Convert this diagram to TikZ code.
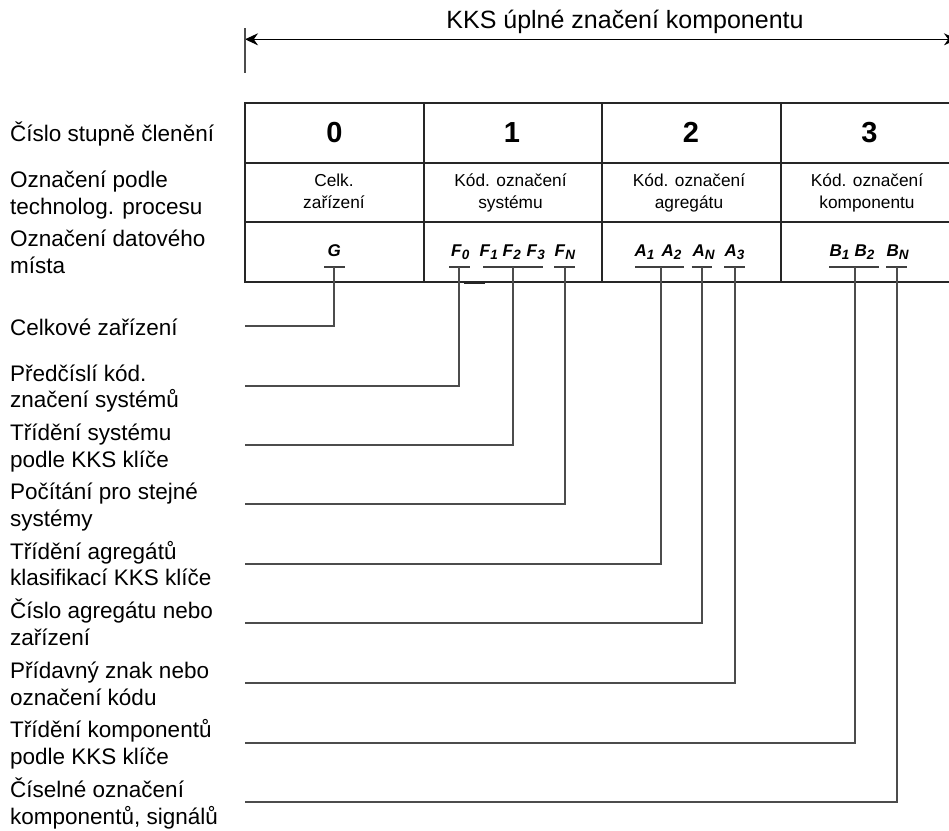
\documentclass[tikz,border=0pt]{standalone}
\usepackage{fontspec}
\setmainfont{Liberation Sans}
\usetikzlibrary{arrows.meta}
\newcommand{\twol}[2]{\begin{tabular}[t]{@{}l@{}}#1\\#2\end{tabular}}
\newcommand{\twoc}[2]{\begin{tabular}[t]{@{}c@{}}#1\\#2\end{tabular}}
\newcommand{\kks}[2]{\textbf{\textit{#1}}\raisebox{-3pt}{\fontsize{13.5}{14}\selectfont\textbf{\textit{#2}}}}
\begin{document}
\begin{tikzpicture}[x=1pt,y=-1pt,
  lbl/.style={anchor=base west, inner sep=0pt, font=\fontsize{22.5}{26.7}\selectfont},
  num/.style={anchor=base, inner sep=0pt, font=\fontsize{29}{30}\selectfont\bfseries},
  desc/.style={anchor=base, inner sep=0pt, font=\fontsize{17.3}{21.6}\selectfont},
  sy/.style={anchor=base west, inner sep=0pt, font=\fontsize{17}{18}\selectfont},
  tab/.style={draw=black!85, line width=1.8pt},
  bar/.style={draw=black!75, line width=1.6pt},
  lead/.style={draw=black!70, line width=1.7pt}]
\useasboundingbox (0,0) rectangle (949,830);
\clip (0,0) rectangle (949,830);

% title and dimension arrow
\node[anchor=base, inner sep=0pt, font=\fontsize{25}{30}\selectfont] (title) at (625,28) {KKS úplné značení komponentu};
\coordinate (aL) at (245,39.3);
\coordinate (aR) at (957,39.3);
\draw[black, line width=1.5pt, {Stealth[length=13pt,width=12pt]}-{Stealth[length=13pt,width=12pt]}] (aL) -- (aR);
\draw[black!70, line width=1.6pt] (245,28.3) -- (245,72.7);

% table
\draw[tab] (960,103) -- (245,103) -- (245,282) -- (960,282);
\draw[tab] (245,163) -- (960,163);
\draw[tab] (245,222) -- (960,222);
\draw[tab] (424,103) -- (424,282);
\draw[tab] (602,103) -- (602,282);
\draw[tab] (781,103) -- (781,282);
\draw[black!85, line width=3pt] (464,282) -- (485,282);

% row 1
\node[num] (n0) at (334.5,142.5) {0};
\node[num] (n1) at (512,142.5) {1};
\node[num] (n2) at (691,142.5) {2};
\node[num] (n3) at (869.5,142.5) {3};

% row 2
\node[desc] (d0) at (334,186.7) {\twoc{Celk.}{zařízení}};
\node[desc] (d1) at (510.5,186.7) {\twoc{Kód. označení}{systému}};
\node[desc] (d2) at (689,186.7) {\twoc{Kód. označení}{agregátu}};
\node[desc] (d3) at (867,186.7) {\twoc{Kód. označení}{komponentu}};

% row 3 symbols
\node[sy] (sG) at (327.5,256.7) {\textbf{\textit{G}}};
\node[sy] (sF0) at (451,256.7) {\kks{F}{0}};
\node[sy] (sF1) at (479.5,256.7) {\kks{F}{1}};
\node[sy] (sF2) at (502.5,256.7) {\kks{F}{2}};
\node[sy] (sF3) at (526.5,256.7) {\kks{F}{3}};
\node[sy] (sFN) at (554.5,256.7) {\kks{F}{N}};
\node[sy] (sA1) at (634.5,256.7) {\kks{A}{1}};
\node[sy] (sA2) at (661.5,256.7) {\kks{A}{2}};
\node[sy] (sAN) at (692.5,256.7) {\kks{A}{N}};
\node[sy] (sA3) at (724.5,256.7) {\kks{A}{3}};
\node[sy] (sB1) at (829.5,256.7) {\kks{B}{1}};
\node[sy] (sB2) at (854.5,256.7) {\kks{B}{2}};
\node[sy] (sBN) at (886.5,256.7) {\kks{B}{N}};

% bars
\coordinate (bG) at (334.3,266.7);
\coordinate (bF0) at (459,266.7);
\coordinate (bF13) at (513.3,266.7);
\coordinate (bFN) at (565,266.7);
\coordinate (bA12) at (660.7,266.7);
\coordinate (bAN) at (702,266.7);
\coordinate (bA3) at (734.7,266.7);
\coordinate (bB12) at (855.3,266.7);
\coordinate (bBN) at (896.7,266.7);
\draw[bar] (324.3,266.7) -- (345.3,266.7);
\draw[bar] (449.3,266.7) -- (470,266.7);
\draw[bar] (483.3,266.7) -- (542.7,266.7);
\draw[bar] (554.3,266.7) -- (575,266.7);
\draw[bar] (635,266.7) -- (684,266.7);
\draw[bar] (691.7,266.7) -- (712.3,266.7);
\draw[bar] (724.3,266.7) -- (745,266.7);
\draw[bar] (829.3,266.7) -- (879,266.7);
\draw[bar] (886,266.7) -- (907,266.7);

% left header labels
\node[lbl] (h1) at (10,141.7) {Číslo stupně členění};
\node[lbl] (h2) at (10,187.3) {\twol{Označení podle}{technolog. procesu}};
\node[lbl] (h3) at (10,246.7) {\twol{Označení datového}{místa}};

% leader labels
\node[lbl] (l1) at (10,335) {Celkové zařízení};
\node[lbl] (l2) at (10,381) {\twol{Předčíslí kód.}{značení systémů}};
\node[lbl] (l3) at (10,440.3) {\twol{Třídění systému}{podle KKS klíče}};
\node[lbl] (l4) at (10,499.3) {\twol{Počítání pro stejné}{systémy}};
\node[lbl] (l5) at (10,559) {\twol{Třídění agregátů}{klasifikací KKS klíče}};
\node[lbl] (l6) at (10,618.3) {\twol{Číslo agregátu nebo}{zařízení}};
\node[lbl] (l7) at (10,678.3) {\twol{Přídavný znak nebo}{označení kódu}};
\node[lbl] (l8) at (10,737.7) {\twol{Třídění komponentů}{podle KKS klíče}};
\node[lbl] (l9) at (10,797.3) {\twol{Číselné označení}{komponentů, signálů}};

% leader end points
\coordinate (e1) at (245,326);
\coordinate (e2) at (245,386);
\coordinate (e3) at (245,445.3);
\coordinate (e4) at (245,504.3);
\coordinate (e5) at (245,564);
\coordinate (e6) at (245,623.3);
\coordinate (e7) at (245,683.3);
\coordinate (e8) at (245,742.7);
\coordinate (e9) at (245,802.3);

\draw[lead] (bG) |- (e1);
\draw[lead] (bF0) |- (e2);
\draw[lead] (bF13) |- (e3);
\draw[lead] (bFN) |- (e4);
\draw[lead] (bA12) |- (e5);
\draw[lead] (bAN) |- (e6);
\draw[lead] (bA3) |- (e7);
\draw[lead] (bB12) |- (e8);
\draw[lead] (bBN) |- (e9);
\end{tikzpicture}
\end{document}
